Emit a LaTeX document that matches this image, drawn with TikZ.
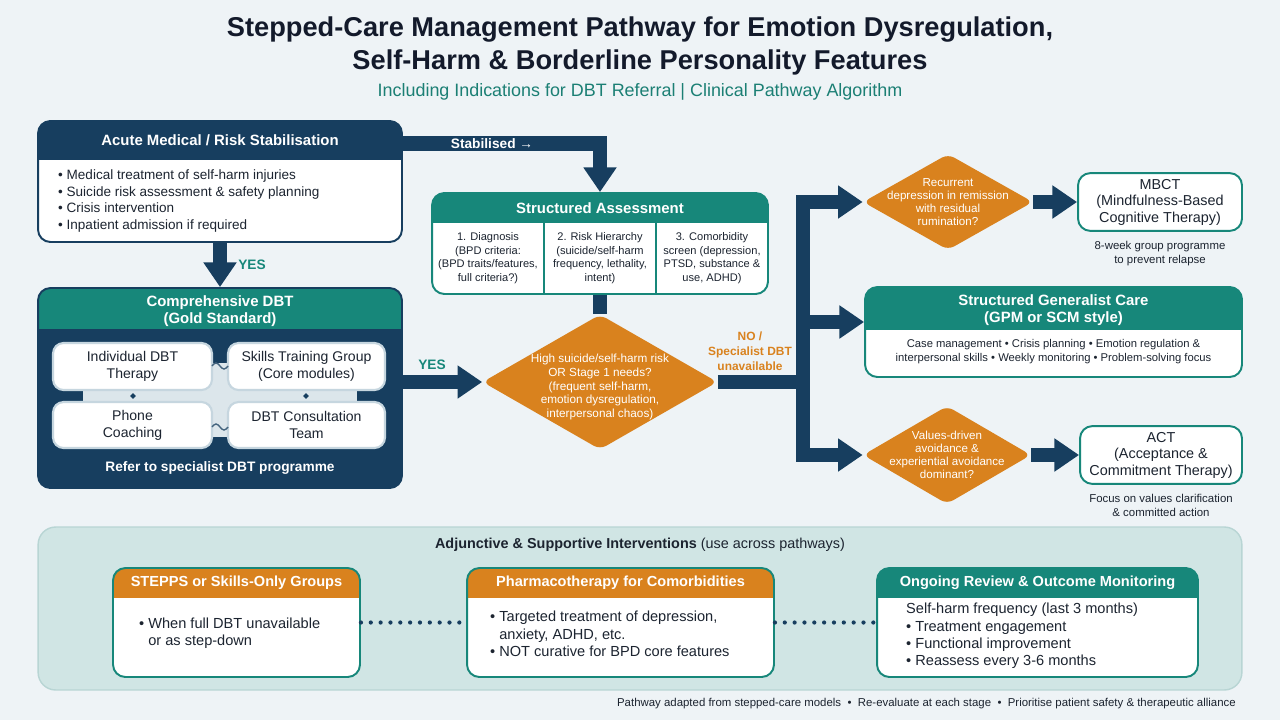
\documentclass[tikz,border=0pt]{standalone}
\usepackage{fontspec}
\setmainfont{Liberation Sans}
\usetikzlibrary{arrows.meta,positioning,shapes.geometric,calc}
\definecolor{careNavy}{HTML}{173E5F}
\definecolor{careTeal}{HTML}{17877A}
\definecolor{careTealText}{HTML}{1B7F74}
\definecolor{careOrange}{HTML}{D9821E}
\definecolor{careInk}{HTML}{1C2430}
\definecolor{careTitle}{HTML}{131A2B}
\definecolor{carePage}{HTML}{EEF3F6}
\definecolor{careBand}{HTML}{D0E5E4}
\definecolor{careBandLine}{HTML}{B8D5D4}
\definecolor{careMist}{HTML}{DCE6EB}
\definecolor{careFrame}{HTML}{C6D6DF}
\newcommand{\cfs}[2]{\fontsize{#1}{#2}\selectfont}
\tikzset{
  care/panel/.style n args={3}{draw=#1, fill=white, line width=1.1pt,
    rounded corners=7pt, inner sep=0pt,
    path picture={\fill[#2, sharp corners] (path picture bounding box.north west)
      rectangle ([yshift=-#3]path picture bounding box.north east);}},
  care/outline/.style={draw=careTeal, fill=white, line width=1.1pt,
    rounded corners=7pt, align=center, font=\cfs{8.2}{9.4}, text=careInk},
  care/tile/.style={draw=careFrame, fill=white, line width=1.2pt,
    rounded corners=6pt, align=center, font=\cfs{8}{9.6}, text=careInk},
  care/pin/.style={diamond, fill=careNavy, inner sep=0pt, minimum size=0.12cm},
  care/wave/.style={draw=careNavy!80, line width=0.8pt},
  care/title/.style={font=\cfs{15.5}{18.7}\bfseries, text=careTitle, align=center},
  care/subtitle/.style={font=\cfs{10.2}{12}, text=careTealText},
  care/head/.style={font=\cfs{8.5}{10}\bfseries, text=white, align=center},
  care/body/.style={font=\cfs{7.7}{9.5}, text=careInk, align=left},
  care/lead/.style={font=\cfs{8.3}{9.9}, text=careInk, align=left},
  care/cell/.style={font=\cfs{6.3}{7.7}, text=careInk, align=center},
  care/decision/.style={diamond, fill=careOrange, rounded corners=4pt, inner sep=0pt},
  care/dtext/.style={font=\cfs{6.7}{7.8}, text=white, align=center},
  care/note/.style={font=\cfs{6.5}{8}, text=careInk, align=center},
  care/small/.style={font=\cfs{6.4}{8}, text=careInk, align=center},
  care/tag/.style={font=\cfs{7.8}{9}\bfseries, align=center},
  care/flow/.style={draw=careNavy, line width=8.5pt},
  care/arrow/.style={care/flow, -{Triangle[length=14pt 0 0, width=18pt 0 0]}},
  care/dots/.style={draw=careNavy, line width=2.4pt, line cap=round,
    dash pattern=on 0pt off 5.6pt},
  care/band/.style={draw=careBandLine, fill=careBand, line width=0.8pt,
    rounded corners=10pt},
  care/foot/.style={font=\cfs{6.5}{8}, text=careInk},
}

\begin{document}
\begin{tikzpicture}[x=0.02cm, y=-0.02cm]
% page
\fill[carePage] (0,0) rectangle (1280,720);

% heading
\node[care/title] (title) at (640,46) {Stepped-Care Management Pathway for Emotion Dysregulation,\\Self-Harm \& Borderline Personality Features};
\node[care/subtitle] (subtitle) at (640,92) {Including Indications for DBT Referral | Clinical Pathway Algorithm};

% acute stabilisation
\node[care/panel={careNavy}{careNavy}{0.78cm}, minimum width=7.28cm, minimum height=2.42cm] (acute) at (220,181.5) {};
\node[care/head] (acutehd) at (220,140) {Acute Medical / Risk Stabilisation};
\node[care/body, anchor=west] (acutetxt) at (52,201) {• Medical treatment of self-harm injuries\\• Suicide risk assessment \& safety planning\\• Crisis intervention\\• Inpatient admission if required};

% comprehensive DBT
\node[care/panel={careNavy}{careTeal}{0.82cm}, fill=careNavy, minimum width=7.28cm, minimum height=4cm] (dbt) at (220,388) {};
\node[care/head] (dbthd) at (220,311) {Comprehensive DBT\\(Gold Standard)};
\fill[careMist] (83,363) rectangle (357,437);
\node[care/tile, minimum width=3.18cm, minimum height=0.94cm] (indiv) at (132.5,366.5) {Individual DBT\\Therapy};
\node[care/tile, minimum width=3.14cm, minimum height=0.94cm] (skills) at (306.5,366.5) {Skills Training Group\\(Core modules)};
\node[care/tile, minimum width=3.18cm, minimum height=0.92cm] (phone) at (132.5,425) {Phone\\Coaching};
\node[care/tile, minimum width=3.14cm, minimum height=0.92cm] (consult) at (306.5,425) {DBT Consultation\\Team};
\node[care/pin] (pinl) at (133,396) {};
\node[care/pin] (pinr) at (306,396) {};
\draw[care/wave] (212,366) sin (216,363) cos (220,366) sin (224,369) cos (228,366);
\draw[care/wave] (212,427) sin (216,424) cos (220,427) sin (224,430) cos (228,427);
\node[care/head, font=\cfs{7.8}{9}\bfseries] (dbtref) at (220,468) {Refer to specialist DBT programme};

% structured assessment
\node[care/panel={careTeal}{careTeal}{0.6cm}, minimum width=6.72cm, minimum height=2.02cm] (assess) at (600,243.5) {};
\node[care/head] (assesshd) at (600,208) {Structured Assessment};
\draw[careTeal, line width=1pt] (544,223) -- (544,294) (656,223) -- (656,294);
\node[care/cell] (diag) at (488,258) {1. Diagnosis\\(BPD criteria:\\(BPD traits/features,\\full criteria?)};
\node[care/cell] (hier) at (600,258) {2. Risk Hierarchy\\(suicide/self-harm\\frequency, lethality,\\intent)};
\node[care/cell] (comorb) at (712,258) {3. Comorbidity\\screen (depression,\\PTSD, substance \&\\use, ADHD)};

% decision points
\node[care/decision, minimum width=4.7cm, minimum height=2.7cm,
  label={[care/dtext, yshift=-0.1cm]center:{High suicide/self-harm risk\\OR Stage 1 needs?\\(frequent self-harm,\\emotion dysregulation,\\interpersonal chaos)}}] (risk) at (600,382) {};
\node[care/decision, minimum width=3.4cm, minimum height=1.92cm,
  label={[care/dtext, font=\cfs{6.6}{7.5}]center:{Recurrent\\depression in remission\\with residual\\rumination?}}] (recur) at (948,202) {};
\node[care/decision, minimum width=3.36cm, minimum height=1.96cm,
  label={[care/dtext, font=\cfs{6.6}{7.5}]center:{Values-driven\\avoidance \&\\experiential avoidance\\dominant?}}] (values) at (947,455) {};

% therapies on the right
\node[care/outline, minimum width=3.28cm, minimum height=1.1cm] (mbct) at (1160,202) {MBCT\\(Mindfulness-Based\\Cognitive Therapy)};
\node[care/note, below=0.06cm of mbct] (mbctnote) {8-week group programme\\to prevent relapse};
\node[care/panel={careTeal}{careTeal}{0.86cm}, minimum width=7.54cm, minimum height=1.8cm] (sgc) at (1053.5,332) {};
\node[care/head] (sgchd) at (1053.5,310) {Structured Generalist Care\\(GPM or SCM style)};
\node[care/small] (sgctxt) at (1053.5,352) {Case management • Crisis planning • Emotion regulation \&\\interpersonal skills • Weekly monitoring • Problem-solving focus};
\node[care/outline, minimum width=3.24cm, minimum height=1.1cm] (act) at (1161,455) {ACT\\(Acceptance \&\\Commitment Therapy)};
\node[care/note, below=0.06cm of act] (actnote) {Focus on values clarification\\\& committed action};

% connectors
\draw[care/arrow] ($(acute.north east)+(-2,23)$) -| (assess.north);
\node[care/tag, text=white] (stablbl) at (492,144) {Stabilised →};
\draw[care/arrow] (acute) -- (dbt);
\node[care/tag, text=careTeal] (yesacute) at (252,265) {YES};
\draw[care/flow] (assess) -- (risk);
\draw[care/arrow] (dbt.east |- risk.west) -- (risk.west);
\node[care/tag, text=careTeal] (yesdbt) at (432,365) {YES};
\coordinate (split) at (803,382);
\draw[care/flow] (risk.east) -- (split);
\draw[care/arrow] (split) |- (recur.west);
\draw[care/arrow] (split) |- ($(sgc.west)+(0,-10)$);
\draw[care/arrow] (split) |- (values.west);
\node[care/tag, text=careOrange, font=\cfs{6.8}{8.4}\bfseries] (nolbl) at (750,351) {NO /\\Specialist DBT\\unavailable};
\draw[care/arrow] (recur) -- (mbct);
\draw[care/arrow] (values) -- (act);

% adjunctive band
\node[care/band, minimum width=24.08cm, minimum height=3.26cm] (band) at (640,608.5) {};
\node[font=\cfs{8.2}{10}, text=careInk] (bandhd) at (640,545) {\textbf{Adjunctive \& Supportive Interventions} (use across pathways)};
\node[care/panel={careTeal}{careOrange}{0.6cm}, minimum width=4.94cm, minimum height=2.18cm] (stepps) at (236.5,622.5) {};
\node[care/head, font=\cfs{8.3}{10}\bfseries] (steppshd) at (236.5,583) {STEPPS or Skills-Only Groups};
\node[care/lead, anchor=west] (steppstxt) at (133,633) {• When full DBT unavailable\\\hphantom{• }or as step-down};
\node[care/panel={careTeal}{careOrange}{0.6cm}, minimum width=6.14cm, minimum height=2.18cm] (pharma) at (620.5,622.5) {};
\node[care/head, font=\cfs{8.3}{10}\bfseries] (pharmahd) at (620.5,583) {Pharmacotherapy for Comorbidities};
\node[care/lead, anchor=west] (pharmatxt) at (484,634) {• Targeted treatment of depression,\\\hphantom{• }anxiety, ADHD, etc.\\• NOT curative for BPD core features};
\node[care/panel={careTeal}{careTeal}{0.6cm}, minimum width=6.42cm, minimum height=2.18cm] (review) at (1037.5,622.5) {};
\node[care/head, font=\cfs{8.3}{10}\bfseries] (reviewhd) at (1037.5,583) {Ongoing Review \& Outcome Monitoring};
\node[care/lead, anchor=west] (reviewtxt) at (900,636) {Self-harm frequency (last 3 months)\\• Treatment engagement\\• Functional improvement\\• Reassess every 3-6 months};
\draw[care/dots] (stepps) -- (pharma);
\draw[care/dots] (pharma) -- (review);

% footer
\node[care/foot, anchor=east] (foot) at (1242,704) {Pathway adapted from stepped-care models \ • \ Re-evaluate at each stage \ • \ Prioritise patient safety \& therapeutic alliance};
\end{tikzpicture}
\end{document}
